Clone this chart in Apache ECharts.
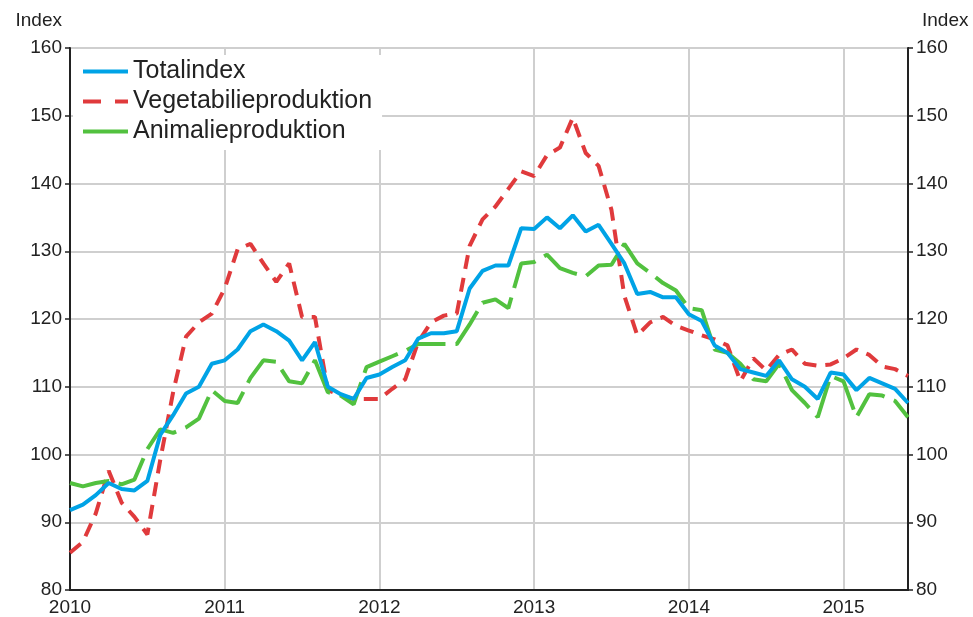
<!DOCTYPE html>
<html>
<head>
<meta charset="utf-8">
<script src="https://cdn.jsdelivr.net/npm/echarts@6/dist/echarts.min.js"></script>
<style>
  html, body { margin: 0; padding: 0; background: #fff; }
  #chart { width: 973px; height: 617px; }
</style>
</head>
<body>
<div id="chart"></div>
<script>
const years = ['2010', '2011', '2012', '2013', '2014', '2015']
const monthCount = 66 // Jan 2010 .. Jun 2015

const totalindex = [
  91.8, 92.6, 94.0, 95.8, 94.9, 94.7, 96.1, 102.9, 105.8, 109.0, 110.0, 113.4,
  113.9, 115.5, 118.2, 119.2, 118.2, 116.8, 113.9, 116.6, 110.0, 108.9, 108.2, 111.3,
  111.8, 112.9, 113.9, 117.1, 117.9, 117.9, 118.2, 124.5, 127.1, 127.9, 127.9, 133.4,
  133.3, 135.0, 133.4, 135.3, 132.9, 133.9, 131.1, 128.2, 123.7, 124.0, 123.2, 123.2,
  120.7, 119.7, 116.1, 115.0, 112.6, 112.1, 111.6, 113.9, 111.1, 110.0, 108.2, 112.1,
  111.8, 109.5, 111.3, 110.5, 109.7, 107.6,
]
const vegetabilie = [
  85.5, 87.1, 91.3, 97.6, 92.9, 90.8, 88.2, 99.2, 109.2, 117.4, 119.5, 120.8,
  124.5, 130.3, 131.1, 128.2, 125.5, 128.2, 120.3, 120.3, 109.5, 108.7, 108.2, 108.2,
  108.2, 109.7, 111.1, 116.6, 119.5, 120.5, 120.8, 130.8, 134.7, 136.6, 139.2, 141.8,
  141.1, 144.2, 145.3, 149.7, 144.5, 142.6, 136.1, 123.4, 117.6, 119.5, 120.3, 119.0,
  118.3, 117.6, 117.0, 116.1, 110.8, 114.2, 112.4, 114.7, 115.5, 113.4, 113.1, 113.3,
  114.2, 115.5, 114.7, 113.0, 112.6, 111.6,
]
const animalie = [
  95.8, 95.3, 95.8, 96.1, 95.6, 96.3, 100.8, 103.7, 103.2, 104.0, 105.3, 109.5,
  107.9, 107.6, 111.3, 113.9, 113.7, 110.8, 110.5, 113.9, 109.2, 108.7, 107.4, 112.9,
  113.7, 114.5, 115.3, 116.3, 116.3, 116.3, 116.3, 119.2, 122.4, 122.9, 121.6, 128.2,
  128.4, 129.5, 127.5, 126.8, 126.3, 127.9, 128.0, 131.1, 128.2, 126.8, 125.3, 124.2,
  121.6, 121.3, 115.5, 115.0, 113.4, 111.1, 110.8, 113.4, 109.5, 107.6, 105.5, 111.6,
  110.8, 105.5, 108.9, 108.7, 107.9, 105.5,
]

const months = []
for (let i = 0; i < monthCount; i += 1) {
  months.push(years[Math.floor(i / 12)] + '-' + String((i % 12) + 1).padStart(2, '0'))
}

const FONT = "'Liberation Sans', Arial, sans-serif"
const TEXT = '#222'
const isJan = (idx) => idx % 12 === 0

const baseLine = {
  type: 'line',
  symbol: 'none',
  smooth: false,
  animation: false,
}

const yAxisBase = {
  type: 'value',
  min: 80,
  max: 160,
  interval: 10,
  name: 'Index',
  nameLocation: 'end',
  nameGap: 27,
  axisLine: { show: true, lineStyle: { color: TEXT, width: 2 } },
  axisTick: { show: true, length: 5, lineStyle: { color: TEXT, width: 1.5 } },
  axisLabel: { color: TEXT, fontSize: 19, fontFamily: FONT, margin: 8 },
}

const chart = echarts.init(document.getElementById('chart'))
chart.setOption({
  backgroundColor: '#fff',
  animation: false,
  textStyle: { fontFamily: FONT, color: TEXT },
  color: ['#00a3e6', '#e03a3c', '#52c13f'],
  grid: {
    left: 70,
    right: 65,
    top: 48,
    bottom: 27,
    show: true,
    borderColor: TEXT,
    borderWidth: 2,
    containLabel: false,
  },
  legend: {
    orient: 'vertical',
    left: 73,
    top: 55,
    backgroundColor: '#fff',
    padding: [4, 10, 6, 8],
    itemWidth: 45,
    itemHeight: 14,
    itemGap: 5,
    itemStyle: { opacity: 0 },
    lineStyle: { width: 4 },
    textStyle: { color: TEXT, fontSize: 25, fontFamily: FONT, lineHeight: 24 },
    data: [
      { name: 'Totalindex' },
      { name: 'Vegetabilieproduktion', lineStyle: { type: [18, 14], width: 4 } },
      { name: 'Animalieproduktion', lineStyle: { type: 'solid', width: 4 } },
    ],
  },
  xAxis: {
    type: 'category',
    data: months,
    boundaryGap: false,
    axisLine: { show: true, lineStyle: { color: TEXT, width: 2 } },
    axisTick: { show: false },
    axisLabel: {
      interval: (idx) => isJan(idx),
      formatter: (val) => val.slice(0, 4),
      color: TEXT,
      fontSize: 19,
      fontFamily: FONT,
      margin: 8,
    },
    splitLine: {
      show: true,
      interval: (idx) => isJan(idx),
      lineStyle: { color: '#cfcfcf', width: 2 },
    },
  },
  yAxis: [
    {
      ...yAxisBase,
      position: 'left',
      nameTextStyle: { color: TEXT, fontSize: 19, fontFamily: FONT, align: 'right', verticalAlign: 'middle', padding: [0, 8, 0, 0] },
      splitLine: { show: true, lineStyle: { color: '#cfcfcf', width: 2 } },
    },
    {
      ...yAxisBase,
      position: 'right',
      nameTextStyle: { color: TEXT, fontSize: 19, fontFamily: FONT, align: 'left', verticalAlign: 'middle', padding: [0, 0, 0, 14] },
      splitLine: { show: false },
    },
  ],
  series: [
    {
      ...baseLine,
      name: 'Totalindex',
      data: totalindex,
      z: 3,
      lineStyle: { width: 4 },
    },
    {
      ...baseLine,
      name: 'Vegetabilieproduktion',
      data: vegetabilie,
      z: 2,
      lineStyle: { width: 4, type: [14, 9] },
    },
    {
      ...baseLine,
      name: 'Animalieproduktion',
      data: animalie,
      z: 2,
      lineStyle: { width: 4, type: [40, 10] },
    },
  ],
})
</script>
</body>
</html>
